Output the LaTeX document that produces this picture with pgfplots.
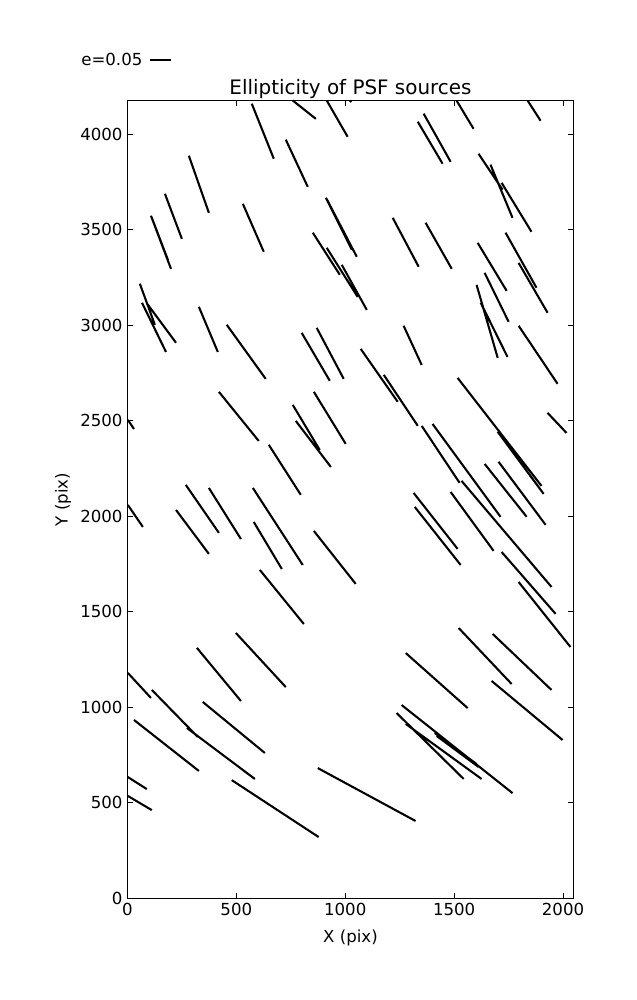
\documentclass[border=0pt]{standalone}
\usepackage{pgfplots}
\pgfplotsset{compat=1.18}
\usepackage{fontspec}
\setmainfont{DejaVu Sans}
\begin{document}
\begin{tikzpicture}
\useasboundingbox (-91.8bp,-73.2bp) rectangle (366.8bp,647.2bp);
\begin{axis}[
  at={(0,0)}, anchor=south west,
  scale only axis, width=321.35bp, height=574.8bp,
  xmin=0, xmax=2048, ymin=0, ymax=4176,
  xtick={0,500,1000,1500,2000}, ytick={0,500,1000,1500,2000,2500,3000,3500,4000},
  minor tick num=0,
  /pgf/number format/assume math mode=true,
  /pgf/number format/set thousands separator={},
  tick label style={font=\fontsize{12}{14}\selectfont},
  label style={font=\fontsize{12}{14}\selectfont},
  xlabel={X (pix)}, ylabel={Y (pix)},
  xlabel style={at={(axis description cs:0.5,-0.0497)}, anchor=center},
  ylabel style={at={(axis description cs:-0.1446,0.5)}, anchor=center},
  axis line style={line width=0.75pt},
  every tick/.style={black, line width=0.75pt},
  major tick length=4pt,
  clip=false,
]
\addplot[black, line width=1.5pt, unbounded coords=jump, mark=none] table {
x y
571 4159
672 3871
nan nan
759 4176
865 4080
nan nan
915 4176
1011 3986
nan nan
1021 4176
1028 4168
nan nan
727 3971
828 3724
nan nan
282 3887
374 3588
nan nan
172 3688
250 3452
nan nan
108 3573
200 3295
nan nan
112 3562
186 3342
nan nan
530 3635
626 3384
nan nan
911 3667
1030 3395
nan nan
915 3660
1053 3358
nan nan
851 3484
975 3264
nan nan
915 3405
1057 3148
nan nan
984 3316
1099 3080
nan nan
57 3217
126 3002
nan nan
67 3117
177 2860
nan nan
94 3107
223 2908
nan nan
1511 4176
1589 4028
nan nan
1837 4176
1897 4070
nan nan
1333 4065
1447 3845
nan nan
1360 4107
1484 3855
nan nan
1612 3897
1722 3709
nan nan
1667 3840
1768 3562
nan nan
1718 3745
1855 3489
nan nan
1218 3562
1337 3306
nan nan
1369 3536
1489 3295
nan nan
1608 3431
1741 3180
nan nan
1736 3484
1878 3196
nan nan
1796 3326
1929 3065
nan nan
1603 3211
1700 2829
nan nan
1640 3274
1750 3018
nan nan
1622 3117
1745 2834
nan nan
328 3096
415 2860
nan nan
456 3002
635 2719
nan nan
800 2960
929 2709
nan nan
869 2986
993 2719
nan nan
420 2651
603 2394
nan nan
759 2583
883 2347
nan nan
773 2499
934 2258
nan nan
856 2651
1002 2379
nan nan
649 2374
796 2112
nan nan
2 2504
30 2457
nan nan
1268 2997
1351 2792
nan nan
1796 2997
1975 2693
nan nan
1071 2876
1241 2599
nan nan
1177 2740
1333 2473
nan nan
1516 2724
1901 2159
nan nan
1700 2442
1911 2117
nan nan
1929 2541
2016 2436
nan nan
1351 2473
1525 2175
nan nan
1401 2483
1713 1997
nan nan
1640 2274
1833 1997
nan nan
1704 2285
1920 1955
nan nan
1534 2185
1947 1630
nan nan
2 2059
71 1944
nan nan
223 2033
374 1803
nan nan
268 2164
420 1913
nan nan
374 2148
521 1881
nan nan
576 2148
805 1745
nan nan
580 1970
709 1724
nan nan
856 1923
1048 1646
nan nan
608 1719
810 1436
nan nan
319 1311
521 1033
nan nan
498 1389
727 1106
nan nan
2 1180
108 1049
nan nan
112 1091
323 845
nan nan
273 892
585 625
nan nan
1314 2122
1516 1829
nan nan
1319 2049
1530 1745
nan nan
1484 2127
1681 1819
nan nan
1718 1813
1966 1489
nan nan
1796 1656
2034 1316
nan nan
1521 1415
1764 1122
nan nan
1677 1384
1947 1091
nan nan
1278 1284
1562 996
nan nan
1672 1138
1998 829
nan nan
30 934
328 667
nan nan
346 1028
631 761
nan nan
479 619
878 321
nan nan
874 682
1323 405
nan nan
2 635
89 572
nan nan
2 536
112 462
nan nan
1259 1012
1768 551
nan nan
1236 970
1544 625
nan nan
1278 913
1626 625
nan nan
1411 866
1603 703
nan nan
1420 850
1612 688
};
\addplot[black, line width=1.5pt, mark=none] coordinates {(103,4389) (200,4389)};
\node[anchor=base west, inner sep=0pt, font=\fontsize{12}{14}\selectfont] at (axis cs:-213,4358) {e=0.05};
\node[anchor=base, inner sep=0pt, font=\fontsize{14.4}{17}\selectfont] at (axis description cs:0.5,1.0075) {Ellipticity of PSF sources};
\end{axis}
\end{tikzpicture}
\end{document}
